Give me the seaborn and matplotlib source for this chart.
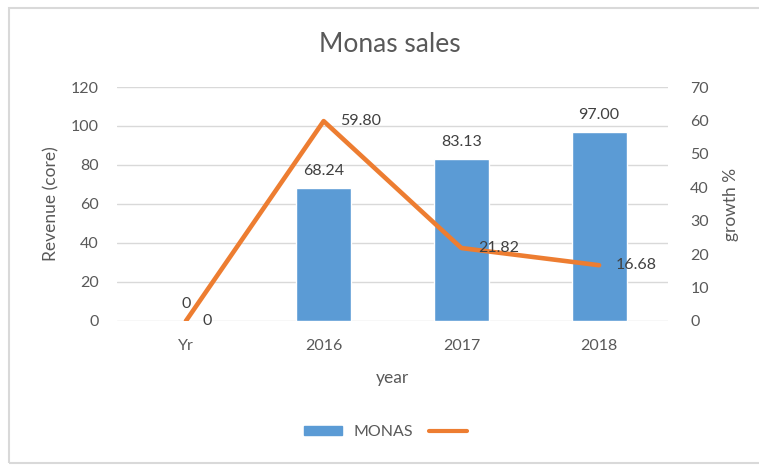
import matplotlib
matplotlib.use("Agg")
import matplotlib.pyplot as plt
from matplotlib.patches import Patch, Rectangle
from matplotlib.lines import Line2D
import seaborn as sns

# data
years = ["Yr", "2016", "2017", "2018"]
revenue = [0, 68.24, 83.13, 97.00]
growth = [0, 59.80, 21.82, 16.68]
bar_labels = ["0", "68.24", "83.13", "97.00"]
line_labels = ["0", "59.80", "21.82", "16.68"]

blue = "#5B9BD5"
orange = "#ED7D31"
grey = "#595959"
dark = "#404040"

sns.set_style("white")
plt.rcParams["font.family"] = ["Lato", "DejaVu Sans"]

fig = plt.figure(figsize=(7.59, 4.65), dpi=100)
ax = fig.add_axes([0.1542, 0.3097, 0.7259, 0.5032])

# bars on the left axis
sns.barplot(x=years, y=revenue, order=years, color=blue, width=0.4,
            saturation=1, ax=ax)
ax.set_ylim(0, 120)
ax.set_yticks(range(0, 121, 20))
ax.grid(axis="y", color="#D9D9D9", lw=1)
ax.set_axisbelow(True)
ax.bar_label(ax.containers[0], labels=bar_labels, padding=7,
             fontsize=11.5, color=dark)

# growth line on the right axis
ax2 = ax.twinx()
sns.pointplot(x=years, y=growth, order=years, color=orange, markers="",
              linestyles="-", errorbar=None, ax=ax2, lw=3.3)
ax2.set_ylim(0, 70)
ax2.set_yticks(range(0, 71, 10))
ax2.grid(False)
for i, v in enumerate(growth):
    ax2.annotate(line_labels[i], (i, v), xytext=(12, 0),
                 textcoords="offset points", ha="left", va="center",
                 fontsize=11.5, color=dark)

for a in (ax, ax2):
    for s in a.spines.values():
        s.set_visible(False)
    a.tick_params(length=0, labelsize=11.5, labelcolor=grey)

ax.tick_params(axis="y", pad=13)
ax.tick_params(axis="x", pad=13)
ax2.tick_params(axis="y", pad=16)
ax.set_xlim(-0.5, 3.5)

ax.set_xlabel("year", fontsize=12.5, color=grey, labelpad=12)
ax.set_ylabel("Revenue (core)", fontsize=12.5, color=grey, labelpad=8)
ax2.set_ylabel("growth %", fontsize=12.5, color=grey, labelpad=10)
ax2.set_xlabel("")

fig.text(0.513, 0.905, "Monas sales", ha="center", va="center",
         fontsize=19, color=grey)

handles = [Patch(color=blue), Line2D([0], [0], color=orange, lw=3)]
fig.legend(handles, ["MONAS", ""], loc="center", bbox_to_anchor=(0.515, 0.071),
           ncol=2, frameon=False, fontsize=11.5, labelcolor=grey,
           handlelength=2.4, handleheight=0.5, columnspacing=1.0,
           handletextpad=0.7)

# light frame round the chart
fig.patches.append(Rectangle((9 / 759, 1 - 463 / 465), 1.0, (463 - 8) / 465,
                             transform=fig.transFigure, fill=False,
                             edgecolor="#D9D9D9", lw=1.5))

fig.savefig("out.png", dpi=100)
